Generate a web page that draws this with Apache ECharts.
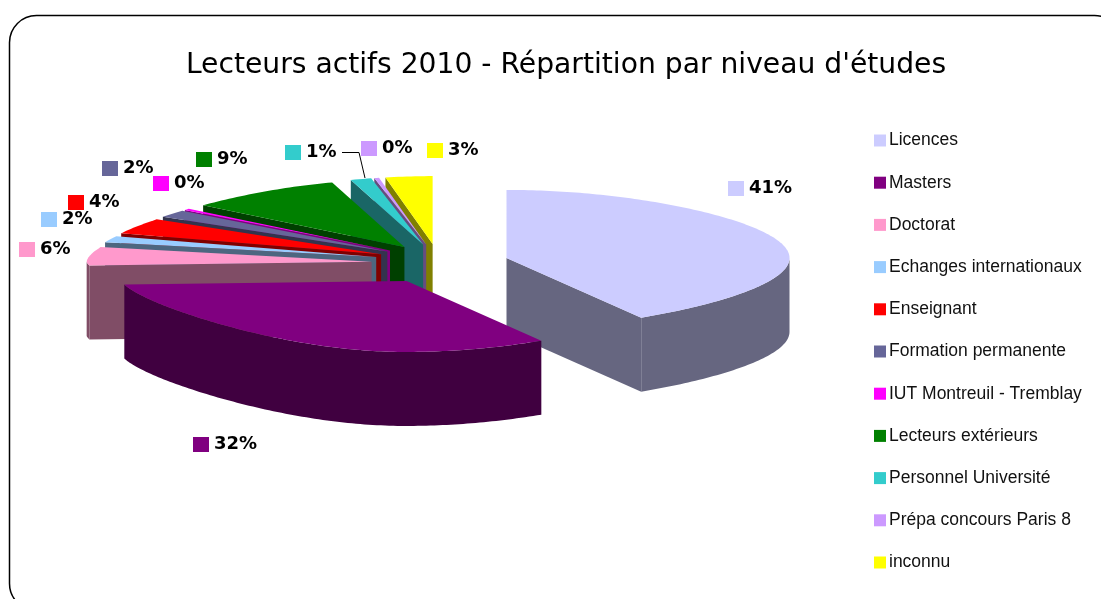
<!DOCTYPE html>
<html>
<head>
<meta charset="utf-8">
<title>Lecteurs actifs 2010</title>
<script src="https://cdn.jsdelivr.net/npm/echarts@6/dist/echarts.min.js"></script>
<style>
  html, body { margin: 0; padding: 0; background: #fff; }
  #chart { width: 1101px; height: 599px; }
</style>
</head>
<body>
<div id="chart"></div>
<script>
const categories = ['Licences', 'Masters', 'Doctorat', 'Echanges internationaux', 'Enseignant',
  'Formation permanente', 'IUT Montreuil - Tremblay', 'Lecteurs extérieurs', 'Personnel Université',
  'Prépa concours Paris 8', 'inconnu']
const values = [40.9, 32.2, 6.4, 1.6, 3.6, 1.6, 0.3, 8.8, 1.3, 0.3, 3.0]
const colors = ['#CCCCFF', '#800080', '#FF99CC', '#99CCFF', '#FF0000',
  '#666699', '#FF00FF', '#008000', '#33CCCC', '#CC99FF', '#FFFF00']
// top-left corner of each data label's colour key
const labelSpots = [[728, 181], [193, 437], [19, 242], [41, 212], [68, 195],
  [102, 161], [153, 176], [196, 152], [285, 145], [361, 141], [427, 143]]

// pie geometry
const CX = 433, CY = 263.4, RX_RIGHT = 283, RX_LEFT = 285, RY_BACK = 68, RY_FRONT = 71, WALL = 74
const EXPL_RIGHT = 75, EXPL_LEFT = 62, EXPL_Y = 19.4, BACK_SHIFT = 5.5, PINCH_BACK = 0.12, PINCH_FRONT = 0.17
const LABEL_FONT = 'bold 18px "DejaVu Sans"'

const total = values.reduce((a, b) => a + b, 0)
const rad = d => d * Math.PI / 180
const slices = []
let acc = 0
values.forEach((v, i) => {
  const start = acc / total * 360
  acc += v
  slices.push({ i, start, end: acc / total * 360, mid: (start + acc / total * 360) / 2 })
})

function apex(s) {
  const sm = Math.sin(rad(s.mid)), cm = Math.cos(rad(s.mid))
  return [CX + (sm > 0 ? EXPL_RIGHT : EXPL_LEFT) * sm + BACK_SHIFT * Math.max(cm, 0), CY - EXPL_Y * cm]
}
function rim(s, deg) {
  const a = apex(s), u = Math.sin(rad(deg)), v = Math.cos(rad(deg))
  const rx = (u > 0 ? RX_RIGHT : RX_LEFT) * (1 - (v > 0 ? PINCH_BACK : PINCH_FRONT) * v * v)
  const ry = v > 0 ? RY_BACK : -RY_FRONT
  // the left half of the original is flatter near the horizontal
  const bend = u > 0 ? 1 : (v > 0 ? 1.2 : 1.4)
  return [a[0] + rx * u, a[1] - ry * Math.pow(Math.abs(v), bend)]
}
function arc(s, from, to) {
  const n = Math.max(2, Math.ceil(to - from) + 1), pts = []
  for (let k = 0; k < n; k++) pts.push(rim(s, from + (to - from) * k / (n - 1)))
  return pts
}
const down = p => [p[0], p[1] + WALL]
function darker(hex) {
  const n = parseInt(hex.slice(1), 16)
  return 'rgb(' + (n >> 16) / 2 + ',' + (n >> 8 & 255) / 2 + ',' + (n & 255) / 2 + ')'
}
const poly = (points, fill) => ({ type: 'polygon', shape: { points }, style: { fill }, silent: true })

function renderSlice(params, api) {
  const s = slices[drawOrder[params.seriesIndex]]
  const col = colors[s.i], dark = darker(col), a = apex(s), kids = []
  // radial faces that look towards the viewer
  if (s.start >= 180) kids.push(poly([a, rim(s, s.start), down(rim(s, s.start)), down(a)], dark))
  if (s.end <= 180) kids.push(poly([a, rim(s, s.end), down(rim(s, s.end)), down(a)], dark))
  // outer wall, front half only
  const wFrom = Math.max(s.start, 90), wTo = Math.min(s.end, 270)
  if (wTo > wFrom) {
    const top = arc(s, wFrom, wTo)
    kids.push(poly(top.concat(top.map(down).reverse()), dark))
  }
  // top surface
  kids.push(poly([a].concat(arc(s, s.start, s.end)), col))
  // data label with its colour key
  const spot = labelSpots[s.i]
  kids.push({ type: 'rect', shape: { x: spot[0], y: spot[1], width: 16, height: 15 }, style: { fill: col }, silent: true })
  kids.push({
    type: 'text', silent: true,
    style: {
      x: spot[0] + 21, y: spot[1] + 7, text: Math.round(api.value(0) / total * 100) + '%',
      font: LABEL_FONT, fill: '#000', verticalAlign: 'middle'
    }
  })
  return { type: 'group', children: kids }
}

const drawOrder = slices.slice().sort((p, q) => Math.cos(rad(q.mid)) - Math.cos(rad(p.mid))).map(s => s.i)

const chart = echarts.init(document.getElementById('chart'))
chart.setOption({
  animation: false,
  title: {
    text: "Lecteurs actifs 2010 - Répartition par niveau d'études",
    left: 561, top: 47, textAlign: 'center',
    textStyle: { fontFamily: 'DejaVu Sans', fontWeight: 'normal', fontSize: 28.2, color: '#000' }
  },
  legend: {
    orient: 'vertical', left: 874, top: 131.5, padding: 0,
    data: categories, icon: 'rect', itemWidth: 12, itemHeight: 12, itemGap: 24.2,
    selectedMode: false,
    textStyle: { fontFamily: 'Liberation Sans', fontSize: 17.5, color: '#111', padding: [0, 0, 0, -2] }
  },
  graphic: [{
    type: 'rect', silent: true, z: -1,
    shape: { x: 9.5, y: 15.5, width: 1112, height: 595, r: 27 },
    style: { fill: 'none', stroke: '#000', lineWidth: 1.5 }
  }, {
    // leader line of the Personnel Université label
    type: 'polyline', silent: true,
    shape: { points: [[342, 152.5], [359, 152.5], [365, 178]] },
    style: { fill: 'none', stroke: '#000', lineWidth: 1 }
  }],
  series: drawOrder.map(i => ({
    type: 'custom',
    name: categories[i],
    coordinateSystem: 'none',
    itemStyle: { color: colors[i] },
    renderItem: renderSlice,
    data: [[values[i]]],
    silent: true
  }))
})
</script>
</body>
</html>
